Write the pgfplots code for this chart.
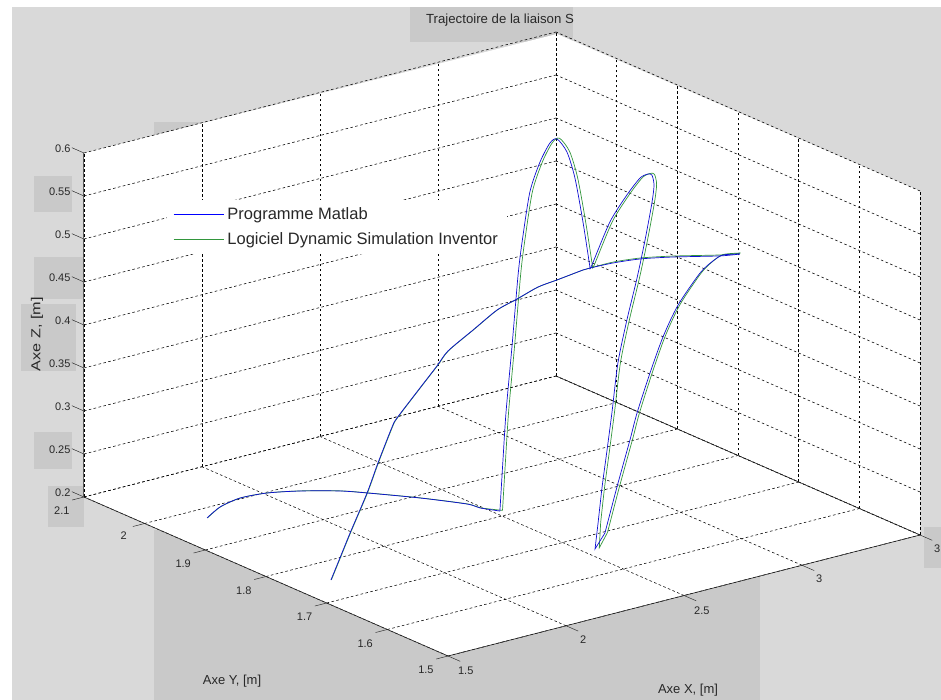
\documentclass[border=0pt]{standalone}
\usepackage{fontspec}
\setmainfont{Liberation Sans}
\usepackage{pgfplots}
\pgfplotsset{compat=1.18}
\definecolor{bgl}{RGB}{217,217,217}
\definecolor{bgd}{RGB}{201,201,201}
\definecolor{mblue}{RGB}{15,15,210}
\definecolor{lblue}{RGB}{0,0,255}
\definecolor{mgreen}{RGB}{50,150,60}
\definecolor{txt}{RGB}{40,40,40}
\begin{document}
\begin{tikzpicture}
\begin{scope}[x=1pt,y=-1pt,xshift=-84pt,yshift=656pt]
\fill[white] (0,0) rectangle (941,700);
\fill[bgl] (12,7) rectangle (941,700);
\fill[bgd] (154,530) rectangle (760,700);
\fill[bgd] (410,7) rectangle (573,42);
\fill[bgd] (154,122) rectangle (205,150);
\fill[bgd] (34,176) rectangle (72,212);
\fill[bgd] (34,257) rectangle (85,299);
\fill[bgd] (21,304) rectangle (76,371);
\fill[bgd] (34,432) rectangle (72,469);
\fill[bgd] (48,486) rectangle (84,527);
\fill[bgd] (924,527) rectangle (941,568);
\fill[white] (84,153) -- (557,34) -- (920,191) -- (920,535) -- (448,656) -- (84,497) -- cycle;
\end{scope}
\begin{axis}[
  at={(0pt,0pt)}, anchor=south west,
  x={(236pt,60.5pt)}, y={(-606.7pt,265pt)}, z={(0pt,860pt)},
  xmin=1.5, xmax=3.5, ymin=1.5, ymax=2.1, zmin=0.2, zmax=0.6,
  clip=false,
  grid=major,
  major grid style={dash pattern=on 2.6pt off 2.4pt,black,line width=0.55pt},
  major tick length=0pt,
  xtick={1.5,2,2.5,3,3.5}, xticklabels={1.5,2,2.5,3,3},
  ytick={1.5,1.6,1.7,1.8,1.9,2,2.1}, yticklabels={1.5,1.6,1.7,1.8,1.9,2,2.1},
  ztick={0.2,0.25,0.3,0.35,0.4,0.45,0.5,0.55,0.6}, zticklabels={0.2,0.25,0.3,0.35,0.4,0.45,0.5,0.55,0.6},
  tick label style={font=\fontsize{11}{11}\selectfont,text=txt},
  xticklabel style={xshift=12pt,yshift=-6pt},
  yticklabel style={xshift=-15pt,yshift=-5pt},
  zticklabel style={xshift=-10pt,yshift=3pt},
  /pgf/number format/assume math mode=true,
  axis line style={draw=none},
  legend style={at={(0.0993,0.7315)},anchor=north west,draw=none,fill=white,inner xsep=6pt,inner ysep=2pt,row sep=0pt,
    font=\fontsize{16.5}{18}\selectfont,text=txt,
    nodes={inner xsep=3.2pt,inner ysep=0pt,minimum height=25pt}},
  legend cell align=left,
  legend image code/.code={\draw[#1] (0pt,0pt) -- (50pt,0pt);},
]
\addlegendimage{draw=lblue,line width=1pt}
\addlegendentry{Programme Matlab}
\addlegendimage{draw=mgreen,line width=1pt}
\addlegendentry{Logiciel Dynamic Simulation Inventor}
\pgfplotsinvokeforeach{0.2,0.25,0.3,0.35,0.4,0.45,0.5,0.55,0.6}{\draw[black!80,line width=0.5pt] (axis cs:1.5,2.1,#1) -- (axis cs:1.5,2.12,#1);}
\pgfplotsinvokeforeach{1.5,1.6,1.7,1.8,1.9,2,2.1}{\draw[black!80,line width=0.5pt] (axis cs:1.5,#1,0.2) -- (axis cs:1.45,#1,0.2);}
\pgfplotsinvokeforeach{1.5,2,2.5,3,3.5}{\draw[black!80,line width=0.5pt] (axis cs:#1,1.5,0.2) -- (axis cs:#1,1.48,0.2);}
\draw[black!65,line width=1pt] (axis cs:1.5,2.1,0.2) -- (axis cs:1.5,2.1,0.6);
\draw[black!85,line width=0.6pt] (axis cs:1.5,2.1,0.2) -- (axis cs:1.5,1.5,0.2) -- (axis cs:3.5,1.5,0.2) -- (axis cs:3.5,2.1,0.2);
% Inventor series, piece by piece between the cusps
\addplot3[mgreen,line width=0.7pt,smooth,tension=0.45,forget plot] coordinates {
(1.520,1.7,.2255)(1.558,1.7,.2484)(1.601,1.7,.2744)(1.673,1.7,.3159)(1.719,1.7,.3474)(1.779,1.7,.3852)(1.800,1.7,.3942)(1.897,1.7,.4222)(1.969,1.7,.4427)(2.016,1.7,.4569)(2.122,1.7,.4738)(2.224,1.7,.4899)(2.308,1.7,.4967)(2.397,1.7,.5044)(2.478,1.7,.5070)(2.588,1.7,.5108)(2.618,1.7,.5110)(2.715,1.7,.5110)(2.830,1.7,.5076)(2.969,1.7,.5001)(3.169,1.7,.4873)(3.253,1.7,.4836)};
\addplot3[mgreen,line width=0.7pt,smooth,tension=0.45,forget plot] coordinates {
(3.253,1.7,.4836)(3.181,1.7,.4870)(3.139,1.7,.4826)(3.088,1.7,.4724)(2.997,1.7,.4417)(2.934,1.7,.4091)(2.880,1.7,.3710)(2.826,1.7,.3284)(2.796,1.7,.2991)(2.741,1.7,.2484)(2.690,1.7,.1984)};
\addplot3[mgreen,line width=0.7pt,forget plot] coordinates {
(2.690,1.7,.1984)(2.655,1.7,.1828)(2.661,1.7,.2121)};
\addplot3[mgreen,line width=0.7pt,smooth,tension=0.45,forget plot] coordinates {
(2.661,1.7,.2121)(2.678,1.7,.2528)(2.699,1.7,.2943)(2.720,1.7,.3370)(2.745,1.7,.3922)(2.783,1.7,.4395)(2.826,1.7,.4853)(2.860,1.7,.5272)(2.889,1.7,.5681)(2.898,1.7,.5885)(2.889,1.7,.6007)(2.872,1.7,.6030)(2.839,1.7,.6008)(2.783,1.7,.5849)(2.711,1.7,.5586)(2.635,1.7,.5140)(2.627,1.7,.5110)};
\addplot3[mgreen,line width=0.7pt,smooth,tension=0.45,forget plot] coordinates {
(2.627,1.7,.5110)(2.597,1.7,.5666)(2.563,1.7,.6201)(2.529,1.7,.6528)(2.487,1.7,.6709)(2.457,1.7,.6683)(2.415,1.7,.6492)(2.372,1.7,.6173)(2.339,1.7,.5615)(2.322,1.7,.5244)(2.296,1.7,.4424)(2.271,1.7,.3686)(2.258,1.7,.3137)(2.245,1.7,.2553)};
\addplot3[mgreen,line width=0.7pt,smooth,tension=0.45,forget plot] coordinates {
(2.245,1.7,.2553)(2.152,1.7,.2648)(2.096,1.7,.2733)(1.897,1.7,.2943)(1.673,1.7,.3159)(1.558,1.7,.3263)(2.032,1.95,.2159)(1.892,1.95,.2234)(1.777,1.95,.2256)(1.693,1.95,.2212)(1.638,1.95,.2123)};
% Matlab series
\addplot3[mblue,line width=0.7pt,smooth,tension=0.45,forget plot] coordinates {
(1.518,1.7,.2255)(1.556,1.7,.2484)(1.599,1.7,.2744)(1.671,1.7,.3159)(1.717,1.7,.3474)(1.777,1.7,.3852)(1.798,1.7,.3942)(1.895,1.7,.4222)(1.967,1.7,.4427)(2.014,1.7,.4569)(2.120,1.7,.4738)(2.222,1.7,.4899)(2.306,1.7,.4967)(2.395,1.7,.5044)(2.476,1.7,.5070)(2.586,1.7,.5108)(2.616,1.7,.5110)(2.713,1.7,.5100)(2.828,1.7,.5066)(2.967,1.7,.4991)(3.167,1.7,.4863)(3.251,1.7,.4826)};
\addplot3[mblue,line width=0.7pt,smooth,tension=0.45,forget plot] coordinates {
(3.251,1.7,.4826)(3.179,1.7,.4865)(3.137,1.7,.4826)(3.082,1.7,.4724)(2.989,1.7,.4417)(2.925,1.7,.4091)(2.870,1.7,.3710)(2.815,1.7,.3284)(2.785,1.7,.2991)(2.730,1.7,.2484)(2.679,1.7,.1984)};
\addplot3[mblue,line width=0.7pt,forget plot] coordinates {
(2.679,1.7,.1984)(2.637,1.7,.1828)(2.650,1.7,.2121)};
\addplot3[mblue,line width=0.7pt,smooth,tension=0.45,forget plot] coordinates {
(2.650,1.7,.2121)(2.667,1.7,.2528)(2.688,1.7,.2943)(2.709,1.7,.3370)(2.734,1.7,.3922)(2.772,1.7,.4395)(2.815,1.7,.4853)(2.849,1.7,.5272)(2.878,1.7,.5681)(2.887,1.7,.5885)(2.878,1.7,.6007)(2.861,1.7,.6030)(2.828,1.7,.6008)(2.772,1.7,.5849)(2.700,1.7,.5586)(2.624,1.7,.5140)(2.616,1.7,.5110)};
\addplot3[mblue,line width=0.7pt,smooth,tension=0.45,forget plot] coordinates {
(2.616,1.7,.5110)(2.586,1.7,.5666)(2.552,1.7,.6201)(2.518,1.7,.6528)(2.476,1.7,.6709)(2.446,1.7,.6683)(2.404,1.7,.6492)(2.361,1.7,.6173)(2.328,1.7,.5615)(2.311,1.7,.5244)(2.285,1.7,.4424)(2.260,1.7,.3686)(2.247,1.7,.3137)(2.234,1.7,.2553)};
\addplot3[mblue,line width=0.7pt,smooth,tension=0.45,forget plot] coordinates {
(2.234,1.7,.2553)(2.150,1.7,.2648)(2.094,1.7,.2733)(1.895,1.7,.2943)(1.671,1.7,.3159)(1.556,1.7,.3263)(2.030,1.95,.2159)(1.890,1.95,.2234)(1.775,1.95,.2256)(1.691,1.95,.2212)(1.636,1.95,.2123)};
\end{axis}
\begin{scope}[x=1pt,y=-1pt,xshift=-84pt,yshift=656pt,every node/.style={font=\fontsize{13}{13}\selectfont,text=txt}]
\node[font=\fontsize{13.2}{13}\selectfont] at (500,20) {Trajectoire de la liaison S};
\node at (232,681) {Axe Y, [m]};
\node at (688,690) {Axe X, [m]};
\node[rotate=90] at (37,334) {\scalebox{1.25}[1]{Axe Z, [m]}};
\pgfresetboundingbox
\path[use as bounding box] (0,0) rectangle (941,700);
\end{scope}
\end{tikzpicture}
\end{document}
